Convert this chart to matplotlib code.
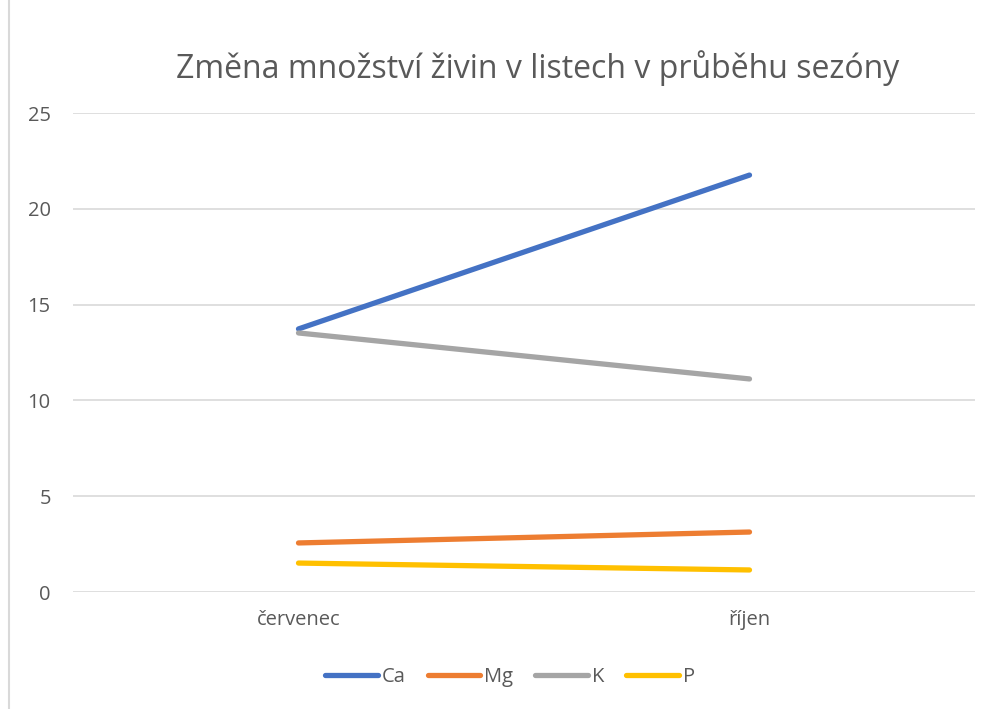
import matplotlib
matplotlib.use("Agg")
import matplotlib.pyplot as plt
from matplotlib.lines import Line2D

categories = ["červenec", "říjen"]
series_names = ["Ca", "Mg", "K", "P"]
ca = [13.73, 21.76]
mg = [2.56, 3.13]
k = [13.52, 11.12]
p = [1.51, 1.15]
colors = ["#4472C4", "#ED7D31", "#A5A5A5", "#FFC000"]
yticks = [0, 5, 10, 15, 20, 25]

plt.rcParams['font.family'] = ['Open Sans', 'DejaVu Sans']
W, H = 989, 709
fig = plt.figure(figsize=(W / 100, H / 100), dpi=100)
ax = fig.add_axes([73 / W, 1 - 592 / H, (975 - 73) / W, (592 - 113) / H])

x = list(range(len(categories)))
for name, vals, c in zip(series_names, [ca, mg, k, p], colors):
    ax.plot(x, vals, color=c, lw=3.8, solid_capstyle='round', label=name, zorder=3)

ax.set_xlim(-0.5, len(categories) - 0.5)
ax.set_ylim(0, 25)
ax.set_yticks(yticks)
ax.set_xticks(x)
ax.set_xticklabels(categories)
ax.grid(axis='y', color='#D9D9D9', lw=1.2)
ax.set_axisbelow(True)
for s in ax.spines.values():
    s.set_visible(False)
ax.tick_params(length=0, labelsize=14.5, colors='#595959')
ax.tick_params(axis='x', pad=13)
ax.tick_params(axis='y', pad=16)

fig.text(538 / W, 1 - 68 / H, "Změna množství živin v listech v průběhu sezóny",
         ha='center', va='center', fontsize=23, color='#595959')

handles = [Line2D([0], [0], color=c, lw=3.8, solid_capstyle='round') for c in colors]
fig.legend(handles, series_names, loc='center', bbox_to_anchor=(510 / W, 1 - 677 / H),
           ncol=4, frameon=False, fontsize=14.5, labelcolor='#595959',
           handlelength=2.6, handletextpad=0.2, columnspacing=1.1)

fig.add_artist(Line2D([9 / W, 9 / W], [0, 1], color='#D9D9D9', lw=1.5, transform=fig.transFigure))

fig.savefig("out.png", dpi=100, facecolor='white')
